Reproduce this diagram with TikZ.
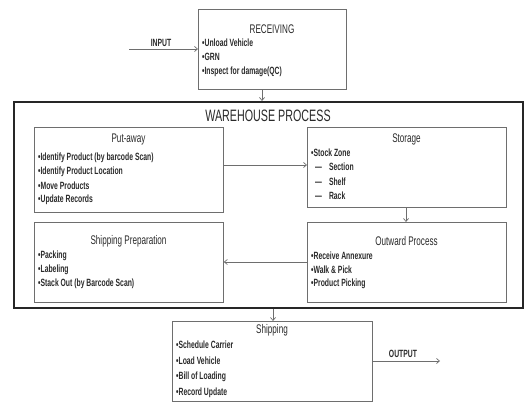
\documentclass[tikz,border=0pt]{standalone}
\usepackage{fontspec}
\setmainfont{Liberation Sans}[FakeStretch=0.65]
\usetikzlibrary{arrows.meta}
\definecolor{ln}{HTML}{6E6E6E}
\definecolor{tx}{HTML}{2A2A2A}
\tikzset{
  box/.style={draw=ln, line width=0.8pt, anchor=north west, inner sep=0pt},
  ttl/.style={font=\fontsize{12.5}{13}\selectfont, text=tx, inner sep=0pt},
  itm/.style={font=\bfseries\fontsize{10.5}{11}\selectfont, text=tx, anchor=west, inner sep=0pt},
  lbl/.style={font=\bfseries\fontsize{10.5}{11}\selectfont, text=tx, inner sep=0pt},
  arr/.style={draw=ln, line width=0.7pt, -{Straight Barb[length=3pt,width=5pt]}}
}
\begin{document}
\begin{tikzpicture}[x=1pt,y=-1pt]
\useasboundingbox (0,0) rectangle (526,403);
% Receiving
\node[box, minimum width=148pt, minimum height=80pt] (recv) at (198,9) {};
\node[ttl] (recvt) at (272,29) {RECEIVING};
\node[itm] (r1) at (202,43) {•Unload Vehicle};
\node[itm] (r2) at (202,57) {•GRN};
\node[itm] (r3) at (202,72) {•Inspect for damage(QC)};
\coordinate (inp) at (129,49);
\draw[arr] (inp) -- (inp -| recv.west);
\node[lbl] (inl) at (161,43) {INPUT};
% Warehouse
\node[draw=black!85, line width=1.8pt, anchor=north west, minimum width=509pt, minimum height=206pt, inner sep=0pt] (wh) at (13,101) {};
\node[font=\fontsize{16.5}{17}\selectfont, text=tx, inner sep=0pt] (wht) at (268,116) {WAREHOUSE PROCESS};
\draw[arr] (recv.south -| 262,0) -- (wh.north -| 262,0);
% Put-away
\node[box, minimum width=189pt, minimum height=85pt] (put) at (34,127) {};
\node[ttl] (putt) at (128.5,139) {Put-away};
\node[itm] (p1) at (38,158) {•Identify Product (by barcode Scan)};
\node[itm] (p2) at (38,171.5) {•Identify Product Location};
\node[itm] (p3) at (38,185.5) {•Move Products};
\node[itm] (p4) at (38,199.5) {•Update Records};
% Storage
\node[box, minimum width=199pt, minimum height=80pt] (sto) at (307,127) {};
\node[ttl] (stot) at (406.5,139) {Storage};
\node[itm] (s1) at (311,153) {•Stock Zone};
\node[itm] (s2) at (315,167) {—\hspace{7pt}Section};
\node[itm] (s3) at (315,181.5) {—\hspace{7pt}Shelf};
\node[itm] (s4) at (315,196) {—\hspace{7pt}Rack};
\draw[arr] (put.east |- 0,165) -- (sto.west |- 0,165);
% Outward
\node[box, minimum width=199pt, minimum height=80pt] (out) at (307,222) {};
\node[ttl] (outt) at (406.5,241) {Outward Process};
\node[itm] (o1) at (311,256) {•Receive Annexure};
\node[itm] (o2) at (311,270) {•Walk \& Pick};
\node[itm] (o3) at (311,284) {•Product Picking};
\draw[arr] (sto.south -| 406,0) -- (out.north -| 406,0);
% Shipping preparation
\node[box, minimum width=189pt, minimum height=80pt] (prep) at (34,222) {};
\node[ttl] (prept) at (128.5,241) {Shipping Preparation};
\node[itm] (sp1) at (38,256) {•Packing};
\node[itm] (sp2) at (38,270) {•Labeling};
\node[itm] (sp3) at (38,284) {•Stack Out (by Barcode Scan)};
\draw[arr] (out.west |- 0,262) -- (prep.east |- 0,262);
% Shipping
\node[box, minimum width=200pt, minimum height=80pt] (ship) at (172,321) {};
\node[ttl] (shipt) at (272,330) {Shipping};
\node[itm] (h1) at (176,345) {•Schedule Carrier};
\node[itm] (h2) at (176,361) {•Load Vehicle};
\node[itm] (h3) at (176,377) {•Bill of Loading};
\node[itm] (h4) at (176,393) {•Record Update};
\draw[arr] (wh.south -| 273,0) -- (ship.north -| 273,0);
\coordinate (outp) at (440,361);
\draw[arr] (ship.east |- outp) -- (outp);
\node[lbl] (outl) at (403,354) {OUTPUT};
\end{tikzpicture}
\end{document}
